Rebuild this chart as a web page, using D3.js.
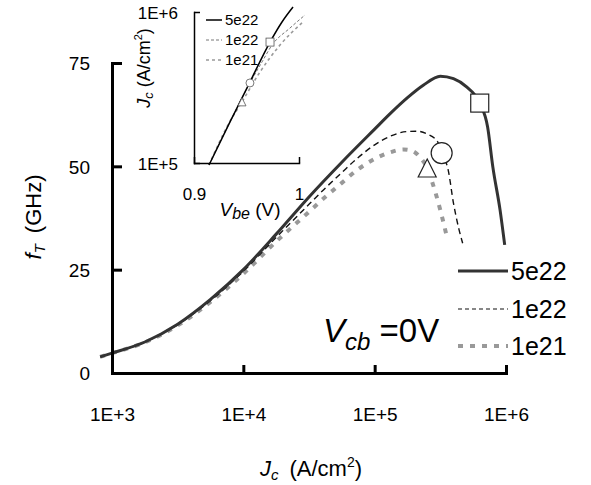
<!DOCTYPE html>
<html>
<head>
<meta charset="utf-8">
<script src="https://cdn.jsdelivr.net/npm/d3@7"></script>
<style>
  html, body { margin: 0; padding: 0; background: #fff; }
  svg { display: block; font-family: "Liberation Sans", Arial, sans-serif; }
</style>
</head>
<body>
<svg id="chart" width="591" height="485"></svg>
<script>
// ---------- DATA ----------
const seriesNames = ["5e22", "1e22", "1e21"];

// main chart: Jc (A/cm2) vs fT (GHz)
const jc5e22 = [813, 1000, 1778, 3162, 5623, 10000, 17783, 31623, 56234, 100000, 131826, 177828, 234423, 316228, 398107, 501187, 630957, 724436, 794328, 901571, 977237];
const ft5e22 = [3.9, 4.8, 7.5, 11.8, 17.8, 25.0, 33.6, 42.6, 51.0, 59.0, 62.8, 66.6, 69.6, 71.8, 71.2, 69.2, 65.3, 59.5, 49.8, 39.4, 31.0];

const jc1e22 = [813, 1000, 1778, 3162, 5623, 10000, 17783, 31623, 40738, 56234, 74131, 100000, 131826, 173780, 208930, 251189, 301995, 323594, 363078, 398107, 436516, 467735];
const ft1e22 = [3.9, 4.8, 7.5, 11.7, 17.5, 24.6, 32.8, 40.8, 44.3, 48.5, 52.0, 55.2, 57.3, 58.4, 58.5, 57.8, 55.9, 53.2, 49.1, 41.1, 35.0, 31.4];

const jc1e21 = [813, 1000, 1778, 3162, 5623, 10000, 17783, 31623, 40738, 56234, 74131, 100000, 131826, 165959, 194984, 223872, 251189, 275423, 316228, 354813];
const ft1e21 = [3.9, 4.8, 7.4, 11.5, 17.2, 24.0, 31.8, 39.0, 42.2, 46.0, 49.2, 51.8, 53.4, 54.1, 53.7, 52.0, 49.6, 46.0, 39.4, 32.9];

// markers on main chart (Jc, fT)
const markerJc = [630957, 323594, 251189];
const markerFt = [65.3, 53.2, 49.6];
const markerShapes = ["square", "circle", "triangle"];

// inset: Vbe (V) vs Jc (A/cm2)
const vbe5e22 = [0.9143, 0.9343, 0.9533, 0.9724, 0.9838, 0.9943];
const ijc5e22 = [97000, 187000, 344000, 632000, 859000, 1079000];
const vbe1e22 = [0.9143, 0.9343, 0.9533, 0.9648, 0.9743, 0.9914, 1.0057];
const ijc1e22 = [97000, 187000, 339000, 467000, 604000, 783000, 955000];
const vbe1e21 = [0.9143, 0.9324, 0.9457, 0.9629, 0.9819, 1.0038];
const ijc1e21 = [97000, 179000, 254000, 401000, 604000, 859000];
const insetMarkerVbe = [0.9724, 0.9533, 0.9457];
const insetMarkerJc = [632000, 339000, 254000];

// ticks
const xTicks = [1e3, 1e4, 1e5, 1e6];
const xTickLabels = ["1E+3", "1E+4", "1E+5", "1E+6"];
const yTicks = [0, 25, 50, 75];
const insetXTicks = [0.9, 1.0];
const insetXTickLabels = ["0.9", "1"];
const insetYTicks = [1e5, 1e6];
const insetYTickLabels = ["1E+5", "1E+6"];

// ---------- DRAW ----------
const svg = d3.select("#chart");
const font = '"Liberation Sans", Arial, sans-serif';

const styles = [
  { stroke: "#333", width: 3, dash: null },
  { stroke: "#111", width: 1.4, dash: "6,4" },
  { stroke: "#999", width: 4, dash: "5,7" }
];
const insetStyles = [
  { stroke: "#000", width: 1.5, dash: null },
  { stroke: "#777", width: 1, dash: "3,2" },
  { stroke: "#999", width: 1.6, dash: "3,3" }
];

// main scales
const x = d3.scaleLog().domain([1e3, 1e6]).range([112, 506]);
const y = d3.scaleLinear().domain([0, 75]).range([373, 63]);

const mainData = [
  d3.zip(jc5e22, ft5e22),
  d3.zip(jc1e22, ft1e22),
  d3.zip(jc1e21, ft1e21)
];
const line = d3.line().x(d => x(d[0])).y(d => y(d[1])).curve(d3.curveMonotoneX);

[2, 1, 0].forEach(i => {
  const s = styles[i];
  svg.append("path")
    .datum(mainData[i])
    .attr("d", line)
    .attr("fill", "none")
    .attr("stroke", s.stroke)
    .attr("stroke-width", s.width)
    .attr("stroke-dasharray", s.dash)
    .attr("stroke-linejoin", "round");
});

// axes
const xAxis = d3.axisBottom(x).tickValues(xTicks).tickSizeInner(-8).tickSizeOuter(0)
  .tickPadding(35).tickFormat((d, i) => xTickLabels[i]);
const gx = svg.append("g").attr("transform", "translate(0,373)").call(xAxis);
const yAxis = d3.axisLeft(y).tickValues(yTicks).tickSizeInner(-10).tickSizeOuter(0)
  .tickPadding(22).tickFormat(d3.format("d"));
const gy = svg.append("g").attr("transform", "translate(112,0)").call(yAxis);
[gx, gy].forEach(g => {
  g.select(".domain").attr("stroke", "#000").attr("stroke-width", 3).attr("stroke-linecap", "square");
  g.selectAll(".tick line").attr("stroke", "#000").attr("stroke-width", 3);
  g.selectAll(".tick text").attr("font-size", 19).attr("font-family", font).attr("fill", "#000");
});
gy.selectAll(".tick text").attr("dy", "0.36em");

// markers
function drawMarker(g, shape, cx, cy, size) {
  if (shape === "square") {
    g.append("rect").attr("x", cx - size / 2).attr("y", cy - size / 2)
      .attr("width", size).attr("height", size)
      .attr("fill", "#fff").attr("stroke", "#222").attr("stroke-width", 1.2);
  } else if (shape === "circle") {
    g.append("circle").attr("cx", cx).attr("cy", cy).attr("r", size / 2)
      .attr("fill", "#fff").attr("stroke", "#222").attr("stroke-width", 1.2);
  } else {
    const h = size;
    g.append("path")
      .attr("d", `M${cx},${cy - h / 2}L${cx + size / 2},${cy + h / 2}L${cx - size / 2},${cy + h / 2}Z`)
      .attr("fill", "#fff").attr("stroke", "#222").attr("stroke-width", 1.2);
  }
}
const mg = svg.append("g");
markerShapes.forEach((sh, i) => drawMarker(mg, sh, x(markerJc[i]), y(markerFt[i]), sh === "circle" ? 21 : 18));

// main axis titles
const yt = svg.append("text")
  .attr("transform", "translate(41,217) rotate(-90)")
  .attr("text-anchor", "middle").attr("font-size", 22).attr("font-family", font);
yt.append("tspan").attr("font-style", "italic").text("f");
yt.append("tspan").attr("font-style", "italic").attr("font-size", 15).attr("dy", 4).text("T");
yt.append("tspan").attr("dy", -4).text("\u2002(GHz)");

const xt = svg.append("text")
  .attr("x", 311).attr("y", 476)
  .attr("text-anchor", "middle").attr("font-size", 22).attr("font-family", font);
xt.append("tspan").attr("font-style", "italic").text("J");
xt.append("tspan").attr("font-style", "italic").attr("font-size", 15).attr("dy", 4).text("c");
xt.append("tspan").attr("dy", -4).text("\u2002(A/cm");
xt.append("tspan").attr("font-size", 14).attr("dy", -9).text("2");
xt.append("tspan").attr("dy", 9).text(")");

// main legend
const legY = [271, 309, 346];
seriesNames.forEach((n, i) => {
  const s = styles[i];
  svg.append("line").attr("x1", 458).attr("x2", 508).attr("y1", legY[i]).attr("y2", legY[i])
    .attr("stroke", s.stroke).attr("stroke-width", i === 1 ? 1.2 : s.width).attr("stroke-dasharray", i === 1 ? "4,3" : s.dash);
  svg.append("text").attr("x", 511).attr("y", legY[i] + 9).attr("font-size", 25).attr("font-family", font).text(n);
});

// Vcb label
const vt = svg.append("text").attr("x", 323).attr("y", 342).attr("font-size", 33).attr("font-family", font);
vt.append("tspan").attr("font-style", "italic").text("V");
vt.append("tspan").attr("font-style", "italic").attr("font-size", 24).attr("dy", 8).text("cb");
vt.append("tspan").attr("dy", -8).text(" =0V");

// ---------- INSET ----------
const ix = d3.scaleLinear().domain([0.9, 1.0]).range([194, 299]);
const iy = d3.scaleLog().domain([1e5, 1e6]).range([163, 12]);
const insetData = [
  d3.zip(vbe5e22, ijc5e22),
  d3.zip(vbe1e22, ijc1e22),
  d3.zip(vbe1e21, ijc1e21)
];
const iline = d3.line().x(d => ix(d[0])).y(d => iy(d[1])).curve(d3.curveMonotoneX);
[2, 1, 0].forEach(i => {
  const s = insetStyles[i];
  svg.append("path").datum(insetData[i]).attr("d", iline)
    .attr("fill", "none").attr("stroke", s.stroke).attr("stroke-width", s.width)
    .attr("stroke-dasharray", s.dash);
});

const ixAxis = d3.axisBottom(ix).tickValues(insetXTicks).tickSizeInner(-6).tickSizeOuter(0)
  .tickPadding(25).tickFormat((d, i) => insetXTickLabels[i]);
const gix = svg.append("g").attr("transform", "translate(0,163)").call(ixAxis);
const iyAxis = d3.axisLeft(iy).tickValues(insetYTicks).tickSizeInner(-6).tickSizeOuter(0)
  .tickPadding(16).tickFormat((d, i) => insetYTickLabels[i]);
const giy = svg.append("g").attr("transform", "translate(194,0)").call(iyAxis);
[gix, giy].forEach(g => {
  g.select(".domain").attr("stroke", "#000").attr("stroke-width", 1.5).attr("stroke-linecap", "square");
  g.selectAll(".tick line").attr("stroke", "#000").attr("stroke-width", 1.5);
  g.selectAll(".tick text").attr("font-size", 17).attr("font-family", font).attr("fill", "#000");
});
giy.selectAll(".tick text").attr("dy", "0.36em");

const img = svg.append("g");
markerShapes.forEach((sh, i) => drawMarker(img, sh, ix(insetMarkerVbe[i]), iy(insetMarkerJc[i]), 8));
img.selectAll("rect,circle,path").attr("stroke-width", 0.8).attr("stroke", "#555");

// inset axis titles
const ixt = svg.append("text").attr("x", 250).attr("y", 216).attr("text-anchor", "middle")
  .attr("font-size", 19).attr("font-family", font);
ixt.append("tspan").attr("font-style", "italic").text("V");
ixt.append("tspan").attr("font-style", "italic").attr("font-size", 16).attr("dy", 3).text("be");
ixt.append("tspan").attr("dy", -3).text(" (V)");

const iyt = svg.append("text").attr("transform", "translate(150,68) rotate(-90)")
  .attr("text-anchor", "middle").attr("font-size", 18).attr("font-family", font);
iyt.append("tspan").attr("font-style", "italic").text("J");
iyt.append("tspan").attr("font-style", "italic").attr("font-size", 13).attr("dy", 3).text("c");
iyt.append("tspan").attr("dy", -3).text(" (A/cm");
iyt.append("tspan").attr("font-size", 11).attr("dy", -8).text("2");
iyt.append("tspan").attr("dy", 8).text(")");

// inset legend
const iLegY = [20, 40, 60];
seriesNames.forEach((n, i) => {
  const s = insetStyles[i];
  svg.append("line").attr("x1", 206).attr("x2", 222).attr("y1", iLegY[i]).attr("y2", iLegY[i])
    .attr("stroke", s.stroke).attr("stroke-width", s.width).attr("stroke-dasharray", s.dash);
  svg.append("text").attr("x", 225).attr("y", iLegY[i] + 5).attr("font-size", 15).attr("font-family", font).text(n);
});
</script>
</body>
</html>
